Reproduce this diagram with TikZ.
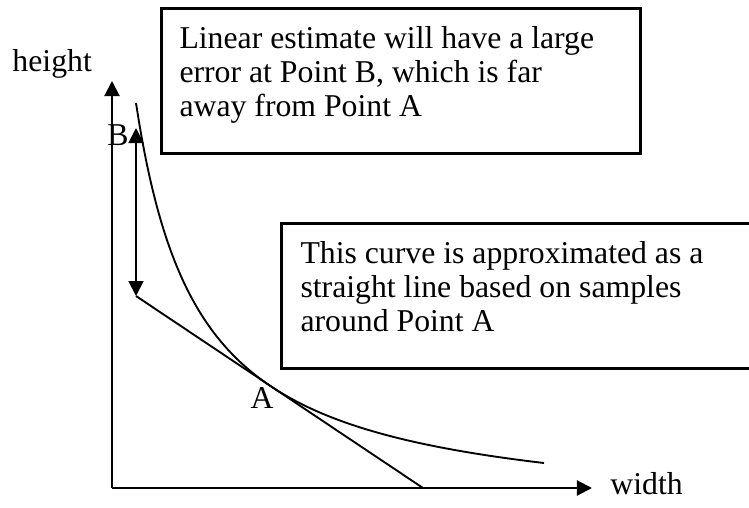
\documentclass[tikz,border=0pt]{standalone}
\usepackage{fontspec}
\setmainfont{Liberation Serif}
\usetikzlibrary{arrows.meta, positioning}

\begin{document}
\begin{tikzpicture}[x=0.4pt, y=-0.4pt,
        notebox/.style={rectangle, draw, line width=1pt, inner sep=0pt, anchor=north west},
        notetext/.style={inner sep=0pt, align=left, anchor=north west, font=\fontsize{12.7pt}{13.6pt}\selectfont},
        label/.style={inner sep=0pt, anchor=base, font=\fontsize{12.7pt}{13.6pt}\selectfont},
        axis/.style={line width=0.85pt, -{Triangle[length=6pt, width=6pt]}},
        arrow/.style={line width=0.75pt, {Triangle[length=6pt, width=6pt]}-{Triangle[length=6pt, width=6pt]}}
    ]
        \useasboundingbox (0,0) rectangle (749,508);
        \clip (0,0) rectangle (749,508);

        % Text boxes
        \node[notebox, minimum width=191.6pt, minimum height=58pt] (errbox) at (160,7) {};
        \node[notetext] (errtext) at (179,26) {Linear estimate will have a large\\error at Point B, which is far\\away from Point A};
        \node[notebox, minimum width=188.8pt, minimum height=58pt] (curvebox) at (280,222) {};
        \node[notetext] (curvetext) at (300,241) {This curve is approximated as a\\straight line based on samples\\around Point A};

        % Axes
        \coordinate (origin) at (112,488);
        \coordinate (ytip) at (112,81);
        \coordinate (xtip) at (592,488);
        \draw[axis] (origin) -- (ytip);
        \draw[axis] (origin) -- (xtip);
        \node[label, anchor=base west] (heightlabel) at (12,71) {height};
        \node[label, anchor=base west] (widthlabel) at (610,494) {width};

        % Curve and its linear estimate
        \draw[line width=0.75pt] plot[domain=136:544, samples=120, smooth] (\x, {518.6 - 261.82/((\x-73)/100)});
        \coordinate (btop) at (136,128);
        \coordinate (bbottom) at (136,296);
        \coordinate (lineend) at (423,488);
        \draw[line width=0.75pt] (bbottom) -- (lineend);
        \draw[arrow] (bbottom) -- (btop);
        \node[label] (pointa) at (262,408) {A};
        \node[label] (pointb) at (118,145) {B};
    \end{tikzpicture}
\end{document}
